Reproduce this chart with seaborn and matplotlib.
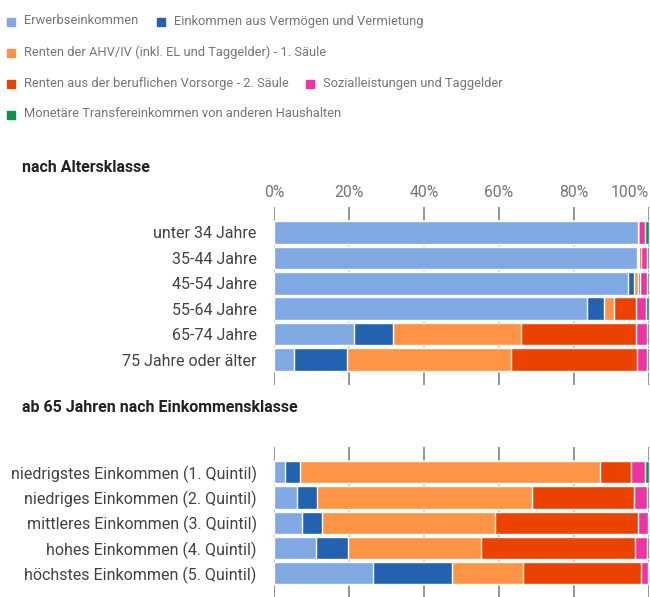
import matplotlib
matplotlib.use("Agg")
import matplotlib.pyplot as plt
import pandas as pd
import seaborn as sns
from matplotlib.patches import Rectangle

# Einkommensquellen (Legende / Stapelreihenfolge)
sources = [
    "Erwerbseinkommen",
    "Einkommen aus Vermögen und Vermietung",
    "Renten der AHV/IV (inkl. EL und Taggelder) - 1. Säule",
    "Renten aus der beruflichen Vorsorge - 2. Säule",
    "Sozialleistungen und Taggelder",
    "Monetäre Transfereinkommen von anderen Haushalten",
]
colors = ["#80a8e3", "#2262b0", "#ff9446", "#ec4200", "#ee34a4", "#0b9444"]

# nach Altersklasse (Anteile in %)
age_classes = ["unter 34 Jahre", "35-44 Jahre", "45-54 Jahre", "55-64 Jahre",
               "65-74 Jahre", "75 Jahre oder älter"]
age_erwerb = [97.0, 96.7, 94.3, 83.4, 21.2, 5.4]
age_vermoegen = [0.0, 0.3, 1.8, 4.7, 10.4, 14.1]
age_ahv = [0.0, 0.4, 1.0, 2.6, 34.2, 43.6]
age_bv = [0.0, 0.4, 0.5, 5.8, 30.8, 33.7]
age_sozial = [2.0, 1.6, 1.8, 2.8, 2.8, 2.6]
age_transfer = [1.0, 0.6, 0.6, 0.7, 0.6, 0.6]

# ab 65 Jahren nach Einkommensklasse (Anteile in %)
income_classes = ["niedrigstes Einkommen (1. Quintil)", "niedriges Einkommen (2. Quintil)",
                  "mittleres Einkommen (3. Quintil)", "hohes Einkommen (4. Quintil)",
                  "höchstes Einkommen (5. Quintil)"]
inc_erwerb = [2.9, 6.1, 7.5, 11.1, 26.3]
inc_vermoegen = [4.1, 5.3, 5.4, 8.5, 21.2]
inc_ahv = [79.8, 57.4, 45.9, 35.6, 19.0]
inc_bv = [8.3, 27.2, 38.2, 41.1, 31.4]
inc_sozial = [3.9, 3.4, 2.6, 3.2, 1.7]
inc_transfer = [1.0, 0.6, 0.4, 0.5, 0.4]

tick_vals = [0, 20, 40, 60, 80, 100]
tick_labels = ["0%", "20%", "40%", "60%", "80%", "100%"]


def make_df(cats, cols):
    df = pd.DataFrame(dict(zip(sources, cols)), index=cats)
    return df


def stacked(ax, df):
    cum = df.cumsum(axis=1)
    # draw from the last source to the first so that each segment shows
    for src, col in reversed(list(zip(sources, colors))):
        sns.barplot(x=cum[src].values, y=list(df.index), color=col, width=0.89,
                    saturation=1, edgecolor="white", linewidth=1.0, orient="h",
                    ax=ax, zorder=3)
    ax.set_xlim(0, 100)
    ax.set_xticks(tick_vals)
    ax.set_xlabel("")
    ax.set_ylabel("")
    for s in ax.spines.values():
        s.set_visible(False)
    ax.grid(axis="x", color="#8c8c8c", linewidth=1.3, zorder=0)
    ax.grid(axis="y", visible=False)
    ax.set_axisbelow(True)
    ax.tick_params(axis="y", length=0, pad=12.5, labelsize=11.5, labelcolor="#424242")


sns.set_theme(style="white")
plt.rcParams["font.family"] = ["Roboto", "DejaVu Sans"]

W, H = 650, 597
fig = plt.figure(figsize=(W / 100, H / 100), dpi=100)

age_df = make_df(age_classes, [age_erwerb, age_vermoegen, age_ahv, age_bv, age_sozial, age_transfer])
inc_df = make_df(income_classes, [inc_erwerb, inc_vermoegen, inc_ahv, inc_bv, inc_sozial, inc_transfer])

ax1 = fig.add_axes([274 / W, 1 - 385 / H, 375 / W, 178 / H])
stacked(ax1, age_df)
ax1.set_ylim(6, -1)
ax1.xaxis.tick_top()
ax1.set_xticklabels(tick_labels)
ax1.tick_params(axis="x", length=0, pad=5, labelsize=11.3, labelcolor="#757575")
# last label kept inside the figure, as in the original
ax1.get_xticklabels()[-1].set_ha("right")

ax2 = fig.add_axes([274 / W, 1 - 598.5 / H, 375 / W, 151.5 / H])
stacked(ax2, inc_df)
ax2.set_ylim(5, -1)
ax2.tick_params(axis="x", length=0, labelbottom=False, labeltop=False)

fig.text(22 / W, 1 - 168 / H, "nach Altersklasse", fontsize=11.5, fontweight="bold",
         color="#222222", va="center", ha="left")
fig.text(22 / W, 1 - 408 / H, "ab 65 Jahren nach Einkommensklasse", fontsize=11.5,
         fontweight="bold", color="#222222", va="center", ha="left")

# Legende
legend_pos = [(7, 22), (157, 22), (7, 53), (7, 84), (306, 84), (7, 115)]
for (px, py), src, col in zip(legend_pos, sources, colors):
    fig.patches.append(Rectangle((px / W, 1 - (py + 4) / H), 8 / W, 8 / H,
                                 transform=fig.transFigure, color=col, figure=fig))
    fig.text((px + 17) / W, 1 - (py - 1) / H, src, fontsize=9.3, color="#757575",
             va="center", ha="left")

fig.savefig("out.png", dpi=100)
